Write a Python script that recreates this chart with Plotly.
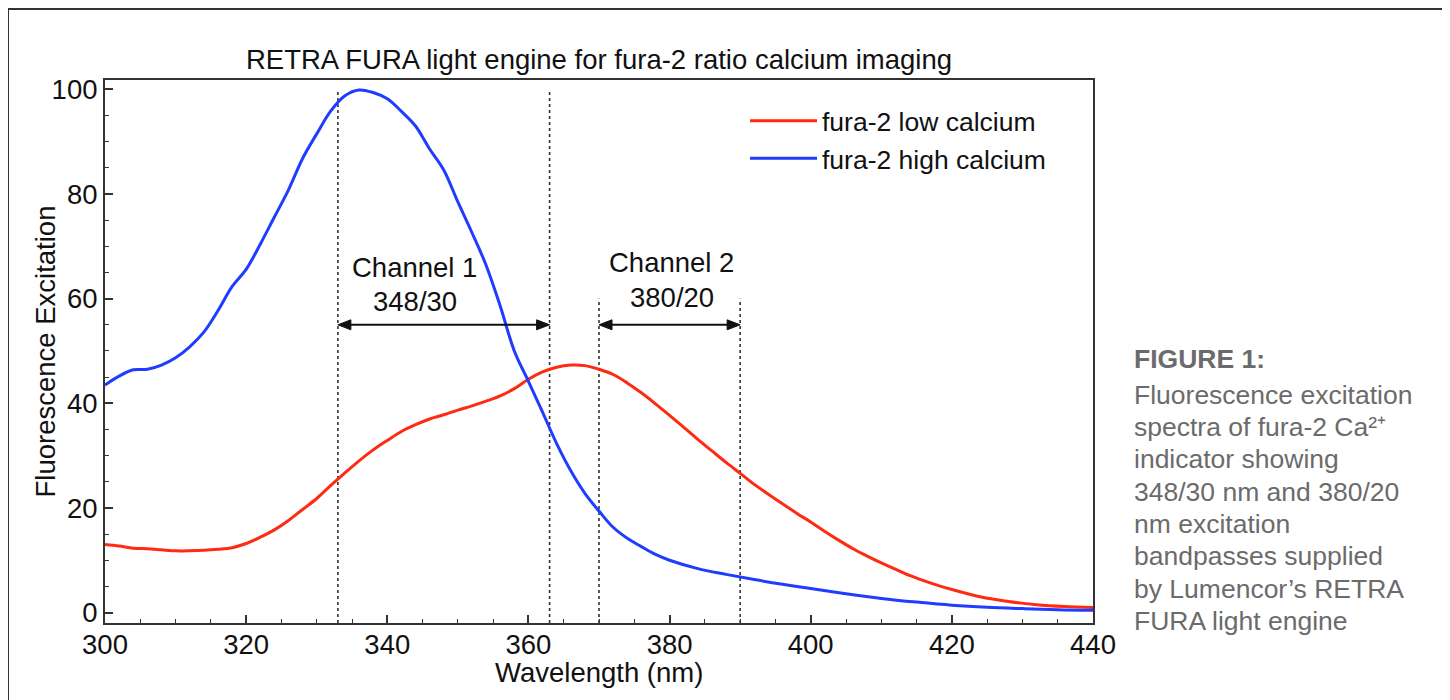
import plotly.graph_objects as go

# ---- data ----
wavelength_high = [300, 302, 304, 306, 308, 310, 312, 314, 316, 318, 320, 322, 324, 326, 328,
                   330, 332, 334, 336, 338, 340, 342, 344, 346, 348, 350, 352, 354, 356, 358,
                   360, 362, 364, 366, 368, 370, 372, 374, 376, 378, 380, 384, 388, 392, 396,
                   400, 405, 410, 415, 420, 425, 430, 435, 440]
fura2_high = [43.5, 45.2, 46.4, 46.5, 47.3, 48.7, 50.8, 53.6, 57.7, 62.3, 65.6, 70.4, 75.6, 80.8, 86.8,
              91.5, 95.9, 98.8, 99.9, 99.4, 98.2, 95.8, 93.0, 88.6, 84.6, 78.5, 72.6, 66.4, 58.6, 50.0,
              44.2, 38.3, 32.3, 27.1, 22.8, 19.4, 16.3, 14.2, 12.6, 11.1, 10.0, 8.4, 7.3, 6.3, 5.4,
              4.6, 3.6, 2.7, 2.0, 1.4, 1.0, 0.75, 0.55, 0.45]

wavelength_low = [300, 302, 304, 306, 308, 310, 312, 314, 316, 318, 320, 322, 324, 326, 328,
                  330, 332, 334, 336, 338, 340, 342, 344, 346, 348, 350, 352, 354, 356, 358,
                  360, 362, 364, 366, 368, 370, 372, 374, 376, 378, 380, 382, 384, 386, 388,
                  390, 392, 394, 396, 398, 400, 402, 404, 406, 408, 410, 412, 414, 416, 418,
                  420, 424, 428, 432, 436, 440]
fura2_low = [13.0, 12.7, 12.3, 12.2, 12.0, 11.8, 11.8, 11.9, 12.1, 12.4, 13.2, 14.4, 15.8, 17.6, 19.7,
             21.8, 24.3, 26.7, 29.0, 31.1, 32.9, 34.6, 35.9, 37.0, 37.8, 38.7, 39.5, 40.4, 41.4, 42.8,
             44.6, 46.0, 46.9, 47.3, 47.2, 46.5, 45.5, 43.9, 42.0, 39.9, 37.7, 35.4, 33.1, 30.9, 28.7,
             26.6, 24.5, 22.6, 20.8, 19.0, 17.3, 15.5, 13.8, 12.2, 10.8, 9.5, 8.3, 7.1, 6.1, 5.2,
             4.4, 3.0, 2.1, 1.5, 1.15, 0.95]

series_names = ["fura-2 low calcium", "fura-2 high calcium"]

# excitation channels (bandpass edges)
channel_names = ["Channel 1", "Channel 2"]
channel_bands = ["348/30", "380/20"]
channel_lo = [333, 370]
channel_hi = [363, 390]
channel_top = [100, 60]
arrow_level = 55

x_ticks = [300, 320, 340, 360, 380, 400, 420, 440]
y_ticks = [0, 20, 40, 60, 80, 100]

title_text = "RETRA FURA light engine for fura-2 ratio calcium imaging"
x_title = "Wavelength (nm)"
y_title = "Fluorescence Excitation"
caption_head = "FIGURE 1:"
caption_lines = ["Fluorescence excitation", "spectra of fura-2 Ca\u00b2\u207a", "indicator showing",
                 "348/30 nm and 380/20", "nm excitation", "bandpasses supplied",
                 "by Lumencor\u2019s RETRA", "FURA light engine"]

FONT = "Liberation Sans, Arial, Helvetica, sans-serif"
FS = 27.5
CAP_FS = 26.5
INK = "#111111"

# plot area in figure pixels
plot_l, plot_r, plot_t, plot_b = 97, 1085, 72, 614.7
pw, ph = plot_r - plot_l, plot_b - plot_t


def px(xp):
    return (xp - plot_l) / pw


def py(yp):
    return (plot_b - yp) / ph


fig = go.Figure()
fig.add_trace(go.Scatter(x=wavelength_low, y=fura2_low, mode="lines", name=series_names[0],
                         legendgroup="a", line=dict(color="#ff2a12", width=3), line_shape="spline"))
fig.add_trace(go.Scatter(x=wavelength_high, y=fura2_high, mode="lines", name=series_names[1],
                         legendgroup="b", line=dict(color="#1f3cff", width=3), line_shape="spline"))

shapes = []
annotations = []
HEAD_L, HEAD_H = 13, 5
for i in range(len(channel_names)):
    # dotted band edges
    for xv in (channel_lo[i], channel_hi[i]):
        shapes.append(dict(type="line", xref="x", yref="y", x0=xv, x1=xv, y0=-2, y1=channel_top[i],
                           line=dict(color="#333333", width=1.6, dash="dot"), layer="below"))
    # double-headed arrow: shaft + two filled heads (sized in pixels)
    shapes.append(dict(type="line", xref="x", yref="y", x0=channel_lo[i] + 0.8, x1=channel_hi[i] - 0.8,
                       y0=arrow_level, y1=arrow_level, line=dict(color=INK, width=2)))
    shapes.append(dict(type="path", xref="x", yref="y", xsizemode="pixel", ysizemode="pixel",
                       xanchor=channel_lo[i], yanchor=arrow_level,
                       path=f"M0,0 L{HEAD_L},{HEAD_H} L{HEAD_L},{-HEAD_H} Z",
                       fillcolor=INK, line=dict(color=INK, width=1)))
    shapes.append(dict(type="path", xref="x", yref="y", xsizemode="pixel", ysizemode="pixel",
                       xanchor=channel_hi[i], yanchor=arrow_level,
                       path=f"M0,0 L{-HEAD_L},{HEAD_H} L{-HEAD_L},{-HEAD_H} Z",
                       fillcolor=INK, line=dict(color=INK, width=1)))

# channel labels
label_x = [343.9, 380.3]
label_y1 = [65.9, 66.9]
label_y2 = [59.4, 60.2]
for i in range(len(channel_names)):
    annotations.append(dict(x=label_x[i], y=label_y1[i], xref="x", yref="y", text=channel_names[i],
                            showarrow=False, font=dict(family=FONT, size=FS, color=INK),
                            xanchor="center", yanchor="middle"))
    annotations.append(dict(x=label_x[i], y=label_y2[i], xref="x", yref="y", text=channel_bands[i],
                            showarrow=False, font=dict(family=FONT, size=FS, color=INK),
                            xanchor="center", yanchor="middle"))

# axis titles
annotations.append(dict(x=0.5, y=py(664), xref="paper", yref="paper", text=x_title, showarrow=False,
                        xanchor="center", yanchor="middle", font=dict(family=FONT, size=FS, color=INK)))
annotations.append(dict(x=px(37), y=0.5, xref="paper", yref="paper", text=y_title, showarrow=False,
                        textangle=-90, xanchor="center", yanchor="middle",
                        font=dict(family=FONT, size=FS, color=INK)))

# caption (right side)
cap_x = px(1124)
annotations.append(dict(x=cap_x, y=py(350.5), xref="paper", yref="paper", text="<b>" + caption_head + "</b>",
                        showarrow=False, xanchor="left", yanchor="middle", align="left",
                        font=dict(family=FONT, size=CAP_FS, color="#6b6b6b")))
for k, line in enumerate(caption_lines):
    annotations.append(dict(x=cap_x, y=py(386.5 + 32.3 * k), xref="paper", yref="paper", text=line,
                            showarrow=False, xanchor="left", yanchor="middle", align="left",
                            font=dict(family=FONT, size=CAP_FS, color="#6b6b6b")))

# outer frame
shapes.append(dict(type="rect", xref="paper", yref="paper", x0=px(0), x1=px(1436), y0=py(720), y1=py(1),
                   line=dict(color="#333333", width=2), fillcolor="rgba(0,0,0,0)", layer="above"))

axis_common = dict(showline=True, linecolor="#333333", linewidth=2, mirror=True, showgrid=False,
                   zeroline=False, ticks="inside", ticklen=8, tickwidth=1.5, tickcolor="#333333",
                   tickfont=dict(family=FONT, size=FS, color=INK))

fig.update_layout(
    width=1450, height=700,
    margin=dict(l=plot_l, r=1450 - plot_r, t=plot_t, b=700 - plot_b),
    paper_bgcolor="white", plot_bgcolor="white",
    title=dict(text=title_text, x=0.5, xref="paper", xanchor="center", y=1 - 51 / 700,
               yref="container", yanchor="middle", font=dict(family=FONT, size=FS, color=INK)),
    xaxis=dict(range=[300, 440], tickvals=x_ticks, ticklabelstandoff=-4,
               minor=dict(dtick=5, ticks="inside", ticklen=4, tickwidth=1.2, tickcolor="#333333"),
               **axis_common),
    yaxis=dict(range=[-2, 101.8], tickvals=y_ticks,
               minor=dict(dtick=5, ticks="inside", ticklen=4, tickwidth=1.2, tickcolor="#333333"),
               **axis_common),
    legend=dict(x=px(737), y=py(89), xanchor="left", yanchor="top", bgcolor="rgba(0,0,0,0)",
                font=dict(family=FONT, size=26.5, color=INK), itemwidth=67, tracegroupgap=0),
    shapes=shapes, annotations=annotations, showlegend=True,
)

fig.write_html("out.html")
